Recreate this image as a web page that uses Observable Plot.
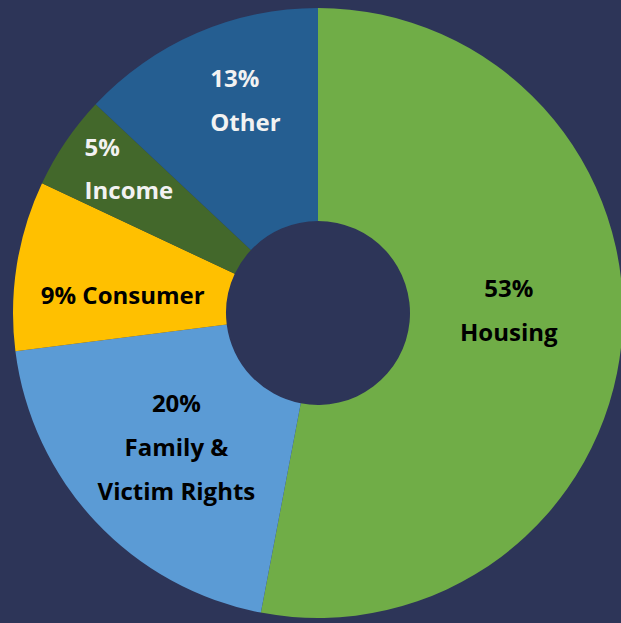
<!DOCTYPE html>
<html>
<head>
<meta charset="utf-8">
<script src="https://cdn.jsdelivr.net/npm/d3@7"></script>
<script src="https://cdn.jsdelivr.net/npm/@observablehq/plot@0.6"></script>
<style>
  html, body { margin: 0; padding: 0; background: #2d3558; }
  #chart svg { display: block; }
</style>
</head>
<body>
<div id="chart"></div>
<script>
// ---- data ----
const categories = ["Housing", "Family & Victim Rights", "Consumer", "Income", "Other"];
const shares = [53, 20, 9, 5, 13];
const labelTexts = ["53%\nHousing", "20%\nFamily &\nVictim Rights", "9% Consumer", "5%\nIncome", "13%\nOther"];
const sliceColors = ["#70ad47", "#5b9bd5", "#ffc000", "#43682b", "#255e91"];
const labelColors = ["#000000", "#000000", "#000000", "#f2f2f2", "#f2f2f2"];

// ---- layout (code, not data) ----
const W = 621, H = 623;
const CX = 318, CY = 313, RPX = 305;      // pixel center & outer radius
const INNER = 92 / 305;                    // hole ratio
const LABEL_R = 0.63;                      // label radius ratio
const labelTweak = {                       // pixel nudges, anchor
  "Housing": {dx: -1, dy: -27, anchor: "middle"},
  "Family & Victim Rights": {dx: -2, dy: -3, anchor: "middle"},
  "Consumer": {dx: -6, dy: 6, anchor: "middle"},
  "Income": {dx: -75, dy: -42, anchor: "start"},
  "Other": {dx: -32, dy: -42, anchor: "start"}
};

const rows = categories.map((c, i) => ({category: c, share: shares[i], label: labelTexts[i], labelColor: labelColors[i]}));
const arcs = d3.pie().sort(null).value(d => d.share)(rows);
const labelRows = arcs.map(a => {
  const m = (a.startAngle + a.endAngle) / 2;
  return {...a.data, lx: LABEL_R * Math.sin(m), ly: LABEL_R * Math.cos(m)};
});

const xDomain = [-CX / RPX, (W - CX) / RPX];
const yDomain = [-(H - CY) / RPX, CY / RPX];

const donut = Plot.dot(arcs, {
  x: () => 0,
  y: () => 0,
  fill: d => d.data.category,
  render: (index, scales, values, dims) => {
    const cx = scales.x(0), cy = scales.y(0);
    const ro = scales.x(1) - cx;
    const ri = scales.x(INNER) - cx;
    const arc = d3.arc().innerRadius(ri).outerRadius(ro);
    const g = d3.create("svg:g").attr("transform", `translate(${cx},${cy})`);
    g.selectAll("path")
      .data(index)
      .join("path")
      .attr("d", i => arc(arcs[i]))
      .attr("fill", i => scales.color(arcs[i].data.category));
    return g.node();
  }
});

const textMarks = labelRows.map(r => {
  const t = labelTweak[r.category];
  return Plot.text([r], {
    x: "lx", y: "ly", text: "label",
    fill: r.labelColor,
    textAnchor: t.anchor,
    dx: t.dx, dy: t.dy,
    fontSize: 24, fontWeight: "bold",
    fontFamily: "Open Sans",
    lineHeight: 1.83
  });
});

const chart = Plot.plot({
  width: W, height: H,
  margin: 0,
  style: {background: "#2d3558", overflow: "hidden"},
  x: {domain: xDomain, axis: null},
  y: {domain: yDomain, axis: null},
  color: {domain: categories, range: sliceColors},
  marks: [donut, ...textMarks]
});
document.getElementById("chart").appendChild(chart);
</script>
</body>
</html>
